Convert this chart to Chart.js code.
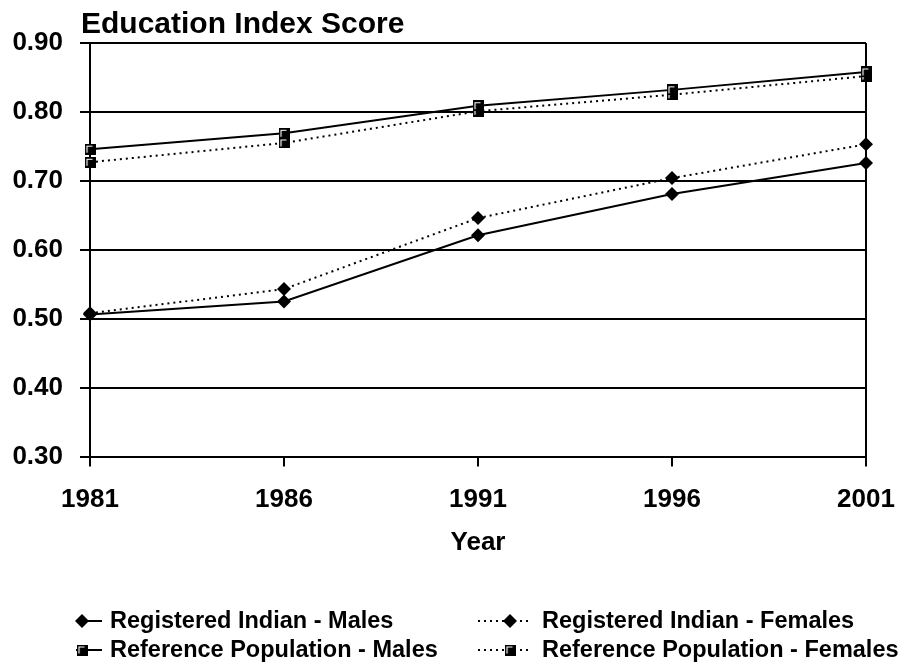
<!DOCTYPE html>
<html>
<head>
<meta charset="utf-8">
<script src="https://cdn.jsdelivr.net/npm/chart.js@4"></script>
<style>
  html, body { margin: 0; padding: 0; background: #fff; }
  #wrap { width: 899px; height: 665px; position: relative; }
</style>
</head>
<body>
<div id="wrap"><canvas id="eduChart"></canvas></div>
<script>
const years = ['1981', '1986', '1991', '1996', '2001'];
const riMales = [0.506, 0.525, 0.621, 0.681, 0.726];
const riFemales = [0.508, 0.543, 0.646, 0.704, 0.753];
const refMales = [0.746, 0.769, 0.809, 0.832, 0.858];
const refFemales = [0.727, 0.755, 0.801, 0.825, 0.852];
const yTicks = [0.30, 0.40, 0.50, 0.60, 0.70, 0.80, 0.90];

const FONT = '"Liberation Sans", Arial, sans-serif';

// Excel style square marker: black box with a white inner corner
function squareMarker(size) {
    const c = document.createElement('canvas');
    c.width = size; c.height = size;
    const g = c.getContext('2d');
    g.fillStyle = '#000';
    g.fillRect(0, 0, size, size);
    g.strokeStyle = '#fff';
    g.lineWidth = 1.2;
    g.beginPath();
    g.moveTo(size - 3, 2.5);
    g.lineTo(2.5, 2.5);
    g.lineTo(2.5, size - 2);
    g.stroke();
    return c;
}
const sq = squareMarker(11);

const dotted = [2, 4];

// title and two-column legend drawn on the canvas
const extras = {
    id: 'extras',
    afterDraw(chart) {
        const ctx = chart.ctx;
        ctx.save();
        ctx.fillStyle = '#000';
        ctx.font = 'bold 30px ' + FONT;
        ctx.textBaseline = 'alphabetic';
        ctx.fillText('Education Index Score', 81, 33);

        const slots = [
            { line: [76, 102], mark: 82, text: 110, y: 621 },
            { line: [478, 528], mark: 510, text: 542, y: 621 },
            { line: [76, 102], mark: 82, text: 110, y: 650 },
            { line: [478, 528], mark: 510, text: 542, y: 650 }
        ];
        chart.data.datasets.forEach((ds, i) => {
            const s = slots[i];
            ctx.strokeStyle = '#000';
            ctx.lineWidth = 2;
            ctx.setLineDash(ds.borderDash || []);
            ctx.beginPath();
            ctx.moveTo(s.line[0], s.y);
            ctx.lineTo(s.line[1], s.y);
            ctx.stroke();
            ctx.setLineDash([]);
            if (ds.pointStyle === 'rectRot') {
                ctx.beginPath();
                ctx.moveTo(s.mark - 7, s.y);
                ctx.lineTo(s.mark, s.y - 7);
                ctx.lineTo(s.mark + 7, s.y);
                ctx.lineTo(s.mark, s.y + 7);
                ctx.closePath();
                ctx.fill();
            } else {
                ctx.drawImage(sq, s.mark - 5.5, s.y - 5.5);
            }
            ctx.font = 'bold 23.5px ' + FONT;
            ctx.textBaseline = 'middle';
            ctx.fillText(ds.label, s.text, s.y + 1);
        });
        ctx.restore();
    }
};

const ctx = document.getElementById('eduChart').getContext('2d');
const eduChart = new Chart(ctx, {
    type: 'line',
    data: {
        labels: years,
        datasets: [{
            label: 'Registered Indian - Males',
            data: riMales,
            borderColor: '#000',
            backgroundColor: '#000',
            borderWidth: 2,
            pointStyle: 'rectRot',
            pointRadius: 7,
            pointBorderWidth: 0
        }, {
            label: 'Registered Indian - Females',
            data: riFemales,
            borderColor: '#000',
            backgroundColor: '#000',
            borderWidth: 2,
            borderDash: dotted,
            pointStyle: 'rectRot',
            pointRadius: 7,
            pointBorderWidth: 0
        }, {
            label: 'Reference Population - Males',
            data: refMales,
            borderColor: '#000',
            backgroundColor: '#000',
            borderWidth: 2,
            pointStyle: sq
        }, {
            label: 'Reference Population - Females',
            data: refFemales,
            borderColor: '#000',
            backgroundColor: '#000',
            borderWidth: 2,
            borderDash: dotted,
            pointStyle: sq
        }]
    },
    options: {
        responsive: true,
        maintainAspectRatio: false,
        animation: false,
        layout: {
            padding: { top: 43, right: 33, bottom: 107, left: 0 }
        },
        scales: {
            x: {
                offset: false,
                afterFit: (scale) => { scale.paddingRight = 0; scale.paddingLeft = 0; },
                border: { display: true, color: '#000', width: 2 },
                grid: {
                    drawOnChartArea: true,
                    color: (c) => c.index === years.length - 1 ? '#000' : 'rgba(0,0,0,0)',
                    tickColor: '#000',
                    lineWidth: 2,
                    tickLength: 10
                },
                ticks: {
                    color: '#000',
                    padding: 18,
                    maxRotation: 0,
                    font: { family: FONT, size: 26, weight: 'bold' }
                },
                title: {
                    display: true,
                    text: 'Year',
                    color: '#000',
                    padding: { top: -7, bottom: 0 },
                    font: { family: FONT, size: 26, weight: 'bold' }
                }
            },
            y: {
                min: 0.3,
                max: 0.9,
                afterFit: (scale) => { scale.width = 90; },
                afterBuildTicks: (scale) => {
                    scale.ticks = yTicks.map(v => ({ value: v }));
                },
                border: { display: true, color: '#000', width: 2 },
                grid: {
                    color: '#000',
                    tickColor: '#000',
                    lineWidth: 2,
                    tickLength: 10
                },
                ticks: {
                    color: '#000',
                    padding: 17,
                    font: { family: FONT, size: 26, weight: 'bold' },
                    callback: (v) => Number(v).toFixed(2)
                }
            }
        },
        plugins: {
            legend: { display: false },
            tooltip: { enabled: false }
        }
    },
    plugins: [extras]
});
</script>
</body>
</html>
